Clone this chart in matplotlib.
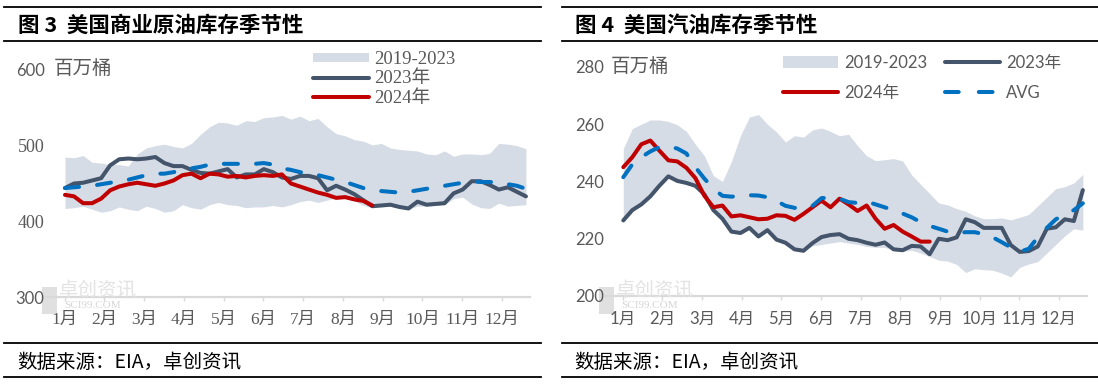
import matplotlib
matplotlib.use("Agg")
import matplotlib.pyplot as plt
from matplotlib.lines import Line2D
from matplotlib.patches import Patch, Rectangle
import numpy as np

# ---------------- data ----------------
months = ['1月', '2月', '3月', '4月', '5月', '6月', '7月', '8月', '9月', '10月', '11月', '12月']

# Figure 3: US commercial crude stocks (million barrels), weekly
crude_hi = [485, 484, 487, 478, 477, 475, 475, 473, 489, 497, 500, 502, 499, 497, 503, 515,
            525, 531, 530, 527, 533, 532, 537, 538, 540, 535, 539, 533, 536, 525, 516, 513,
            508, 506, 501, 503, 497, 495, 494, 493, 489, 488, 493, 486, 489, 489, 488, 490,
            503, 502, 500, 496]
crude_lo = [417, 418, 420, 416, 412, 414, 419, 416, 414, 420, 417, 412, 414, 422, 418, 416,
            422, 425, 422, 421, 418, 419, 419, 421, 419, 422, 426, 428, 425, 428, 431, 430,
            427, 421, 418, 419, 420, 418, 416, 420, 420, 421, 422, 430, 432, 423, 418, 417,
            424, 420, 421, 422]
crude_2023 = [444, 450, 451, 454, 457, 474, 482, 483, 482, 483, 485, 477, 473, 473, 468, 464,
              463, 466, 469, 458, 462, 462, 469, 465, 458, 456, 460, 460, 457, 441, 447, 442,
              436, 428, 420, 421, 422, 419, 417, 426, 422, 423, 424, 437, 442, 453, 453, 448,
              442, 445, 439, 433]
crude_2024 = [435, 433, 424, 424, 430, 441, 446, 449, 451, 449, 447, 450, 454, 461, 463, 457,
              463, 462, 459, 460, 458, 460, 461, 460, 462, 450, 446, 442, 438, 435, 431, 432,
              429, 427, 421]
crude_avg = [444, 445, 446, 447, 449, 451, 453, 455, 458, 461, 463, 463, 465, 467, 470, 472,
             475, 476, 476, 476, 476, 476, 477, 475, 470, 468, 465, 463, 461, 458, 455, 452,
             448, 444, 441, 440, 439, 438, 439, 441, 443, 445, 447, 449, 451, 453, 452, 452,
             451, 449, 447, 443]

# Figure 4: US gasoline stocks (million barrels), weekly
gas_hi = [251.5, 258.5, 260, 261.5, 261.5, 261, 259.8, 257.5, 253, 249, 242, 240, 247, 256,
          262.5, 263.4, 260, 257.3, 253.8, 256, 255.5, 258, 258.7, 257.5, 256, 256.5, 252.5,
          249, 247.3, 247.6, 248, 247.2, 242.3, 239, 235.8, 232.5, 231.8, 230.5, 229.6, 228,
          227, 227, 227.3, 226.6, 227.5, 228.5, 231.5, 234.5, 237.5, 238.2, 239.5, 242.5]
gas_lo = [226.4, 230, 232, 234.8, 238.5, 241.8, 240.2, 239.5, 238.5, 235.5, 230, 227, 222.5,
          222, 223.8, 220.8, 223, 219.7, 218.6, 216.3, 215.8, 217.5, 218, 218.5, 219, 218.5,
          218, 217.3, 217, 217, 216, 215.5, 216, 215, 213.8, 212.5, 212.2, 211, 208.2, 209.5,
          209.2, 209, 208, 206.7, 210, 211.2, 212, 215, 218, 221, 223.5, 223]
gas_2023 = [226.4, 230, 232, 234.8, 238.5, 241.8, 240.2, 239.5, 238.5, 235.5, 230, 227, 222.5,
            222, 223.8, 220.8, 223, 219.7, 218.6, 216.3, 215.8, 218.5, 220.6, 221.3, 221.6, 220,
            219.5, 218.6, 217.9, 218.7, 216.3, 216, 217.5, 217.3, 214.6, 220, 219.5, 220.5,
            226.8, 225.8, 223.8, 223.8, 223.8, 217.8, 215.4, 215.7, 217.3, 223.5, 224, 226.8,
            226.2, 237]
gas_2024 = [245, 248.5, 253, 254.3, 250.8, 247.4, 247, 244.8, 241.2, 235, 231, 231.6, 227.8,
            228.2, 227.5, 226.8, 227, 228.2, 228, 226.6, 228.7, 231, 233.3, 231, 234, 232,
            229.7, 231.6, 227, 223.5, 224.8, 222.5, 220.8, 219, 219]
gas_avg = [241.5, 246, 248.5, 250.5, 252, 252.3, 251.5, 249.8, 245, 241, 237.5, 235, 234.7,
           235, 235.2, 235.1, 234.5, 233.2, 231.5, 230.8, 230.5, 231.5, 234.2, 234.3, 234,
           232.8, 232.5, 233, 232, 231, 230, 228.8, 227.5, 225.8, 224.5, 223.5, 222.5, 222,
           222.3, 222.3, 221.6, 220.5, 218.8, 217, 215.5, 216.5, 220.5, 223.8, 226.8, 228.5,
           230, 232.4]

# ---------------- style ----------------
C_BAND = '#D6DCE5'
C_2023 = '#44546A'
C_2024 = '#C00000'
C_AVG = '#0070C0'
C_AXIS = '#D9D9D9'
C_TXT = '#595959'

SERIF = ['Liberation Serif', 'Noto Sans CJK SC']
SANS = ['Lato', 'Noto Sans CJK SC']
CJK = ['Noto Sans CJK SC', 'DejaVu Sans']

W, H = 1098, 385
fig = plt.figure(figsize=(W / 100, H / 100), dpi=100)


def fx(px):
    return px / W


def fy(py):
    return 1 - py / H


LW = 2.9
DASH = (3.5, 4.5)


def draw_panel(ax, hi, lo, s23, s24, avg, ylim, yticks, xlim, tick_font, month_fs):
    wk = np.arange(len(hi))
    wk24 = np.arange(len(s24))
    ax.fill_between(wk, lo, hi, color=C_BAND, lw=0, zorder=1)
    ax.plot(wk, s23, color=C_2023, lw=LW, solid_joinstyle='round', solid_capstyle='round', zorder=2)
    ax.plot(wk24, s24, color=C_2024, lw=LW, solid_joinstyle='round', solid_capstyle='round', zorder=3)
    ax.plot(wk, avg, color=C_AVG, lw=LW, dashes=DASH, dash_capstyle='round', zorder=4)
    ax.set_ylim(*ylim)
    ax.set_xlim(*xlim)
    ax.set_yticks(yticks)
    mpos = [4.4 * m - 0.05 for m in range(12)]
    ax.set_xticks(mpos)
    ax.set_xticklabels(months, family=tick_font, fontsize=month_fs, color=C_TXT)
    for s in ['top', 'right', 'left']:
        ax.spines[s].set_visible(False)
    ax.spines['bottom'].set_color(C_AXIS)
    ax.spines['bottom'].set_linewidth(1.6)
    ax.tick_params(axis='x', length=3, width=1, color=C_AXIS, pad=8)
    ax.tick_params(axis='y', length=0, pad=1)
    ax.set_facecolor('none')


# ---------------- left panel ----------------
ax1 = fig.add_axes([fx(46), fy(297), (530 - 46) / W, (297 - 70) / H])
draw_panel(ax1, crude_hi, crude_lo, crude_2023, crude_2024, crude_avg,
           (300, 600), [300, 400, 500, 600], (-2.1, 51.45), SERIF, 12.5)
for lab in ax1.get_yticklabels():
    v = lab.get_text()
    lab.set_fontsize(13)
    lab.set_color(C_TXT)
    if v in ('300', '600'):
        lab.set_family(SANS)
        lab.set_fontsize(12)
    else:
        lab.set_family(SERIF)

# ---------------- right panel ----------------
ax2 = fig.add_axes([fx(605), fy(296), (1087 - 605) / W, (296 - 67) / H])
draw_panel(ax2, gas_hi, gas_lo, gas_2023, gas_2024, gas_avg,
           (200, 280), [200, 220, 240, 260, 280], (-2.03, 51.46), SANS, 12)
for lab in ax2.get_yticklabels():
    lab.set_family(SANS)
    lab.set_fontsize(12)
    lab.set_color(C_TXT)

# unit labels
fig.text(fx(54), fy(68), '百万桶', family=CJK, fontsize=14, color=C_TXT, va='center', ha='left')
fig.text(fx(611), fy(66), '百万桶', family=CJK, fontsize=14, color=C_TXT, va='center', ha='left')

# ---------------- legends ----------------
h_band = Patch(facecolor=C_BAND, edgecolor='none')
h_23 = Line2D([], [], color=C_2023, lw=LW, solid_capstyle='round')
h_24 = Line2D([], [], color=C_2024, lw=LW, solid_capstyle='round')
h_avg = Line2D([], [], color=C_AVG, lw=LW, dashes=(3.4, 5.0), dash_capstyle='round')

leg1 = ax1.legend([h_band, h_23, h_24], ['2019-2023', '2023年', '2024年'],
                  loc='upper left', bbox_to_anchor=(fx(313), fy(51)),
                  bbox_transform=fig.transFigure, frameon=False, borderpad=0,
                  borderaxespad=0, handlelength=3.0, handleheight=0.4,
                  handletextpad=0.25, labelspacing=0.13,
                  prop={'family': SERIF, 'size': 13.5})
for t in leg1.get_texts():
    t.set_color(C_TXT)

leg2 = ax2.legend([h_band, h_24, h_23, h_avg], ['2019-2023', '2024年', '2023年', 'AVG'],
                  ncol=2, loc='upper left', bbox_to_anchor=(fx(783), fy(55)),
                  bbox_transform=fig.transFigure, frameon=False, borderpad=0,
                  borderaxespad=0, handlelength=3.3, handleheight=0.75,
                  handletextpad=0.35, labelspacing=0.85, columnspacing=1.1,
                  prop={'family': SANS, 'size': 12})
for t in leg2.get_texts():
    t.set_color(C_TXT)

# ---------------- titles, rules, footers ----------------
for x0, x1 in [(4, 541), (562, 1098)]:
    for yy in (7, 41, 343, 377):
        fig.add_artist(Line2D([fx(x0), fx(x1)], [fy(yy), fy(yy)], color='black', lw=1.3,
                              transform=fig.transFigure))

fig.text(fx(18), fy(25), '图 3  美国商业原油库存季节性', family=CJK, fontsize=15.5,
         fontweight='bold', color='black', va='center', ha='left')
fig.text(fx(575), fy(25), '图 4  美国汽油库存季节性', family=CJK, fontsize=15.5,
         fontweight='bold', color='black', va='center', ha='left')
fig.text(fx(17), fy(363), '数据来源：EIA，卓创资讯', family=CJK, fontsize=14,
         color='black', va='center', ha='left')
fig.text(fx(574), fy(363), '数据来源：EIA，卓创资讯', family=CJK, fontsize=14,
         color='black', va='center', ha='left')

# watermark logos
for x0 in (42, 599):
    fig.add_artist(Rectangle((fx(x0), fy(314)), 15 / W, 27 / H, transform=fig.transFigure,
                             facecolor='#D9D9D9', edgecolor='none', alpha=0.8, zorder=0))
    fig.text(fx(x0 + 17), fy(291), '卓创资讯', family=CJK, fontsize=14, color='#E3E3E3',
             va='center', ha='left', zorder=0)
    fig.text(fx(x0 + 22), fy(305), 'SCI99.COM', family=SERIF, fontsize=8, color='#D6D6D6',
             va='center', ha='left', zorder=0)

fig.savefig('out.png', dpi=100)
